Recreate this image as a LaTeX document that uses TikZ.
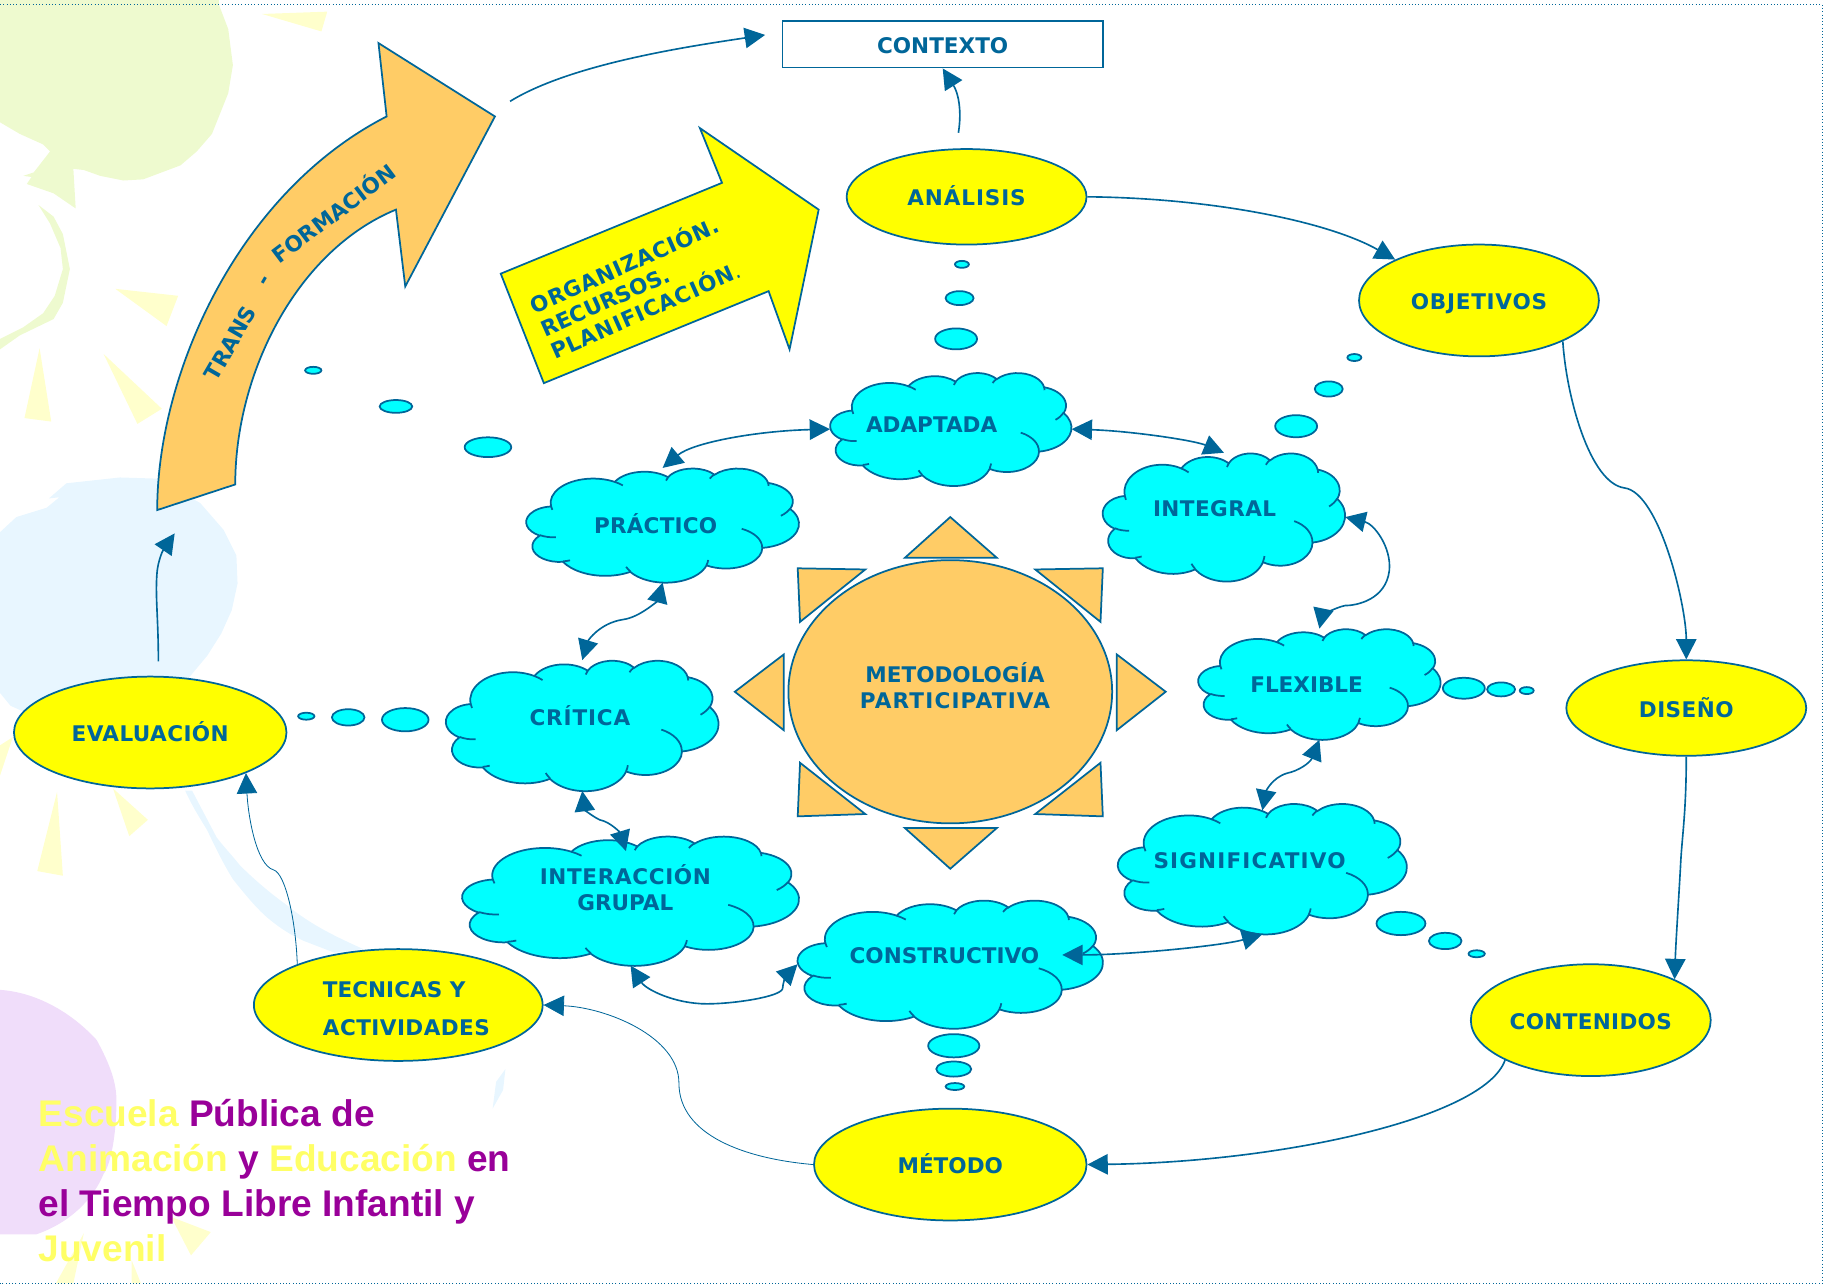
\documentclass[tikz,border=0pt]{standalone}
\usepackage{fontspec}
\usetikzlibrary{arrows.meta,shapes.geometric}
\newfontfamily\labfam{DejaVu Sans}
\newfontfamily\escfam{Liberation Sans}
\definecolor{linec}{HTML}{006699}
\definecolor{cloudc}{HTML}{00FFFF}
\definecolor{orangec}{HTML}{FFCC66}
\definecolor{yellowc}{HTML}{FFFF00}
\definecolor{pgreen}{HTML}{EEFACF}
\definecolor{pblue}{HTML}{E8F6FF}
\definecolor{pyellow}{HTML}{FFFFCC}
\definecolor{ppurple}{HTML}{F0DDFA}
\definecolor{purp}{HTML}{990099}
\definecolor{escy}{HTML}{FFFF66}
\newcommand\spreadtxt[2]{{\addfontfeatures{LetterSpace=#1}#2}}
\tikzset{
 x=1pt,y=-1pt,
 lab/.style={font=\labfam\bfseries\fontsize{18.5}{22.5}\selectfont,text=linec,align=center,inner sep=0pt},
 lab1/.style={font=\labfam\bfseries\fontsize{18.5}{22.5}\selectfont,text=linec,inner sep=0pt,text height=15.5pt,text depth=0pt},
 wide/.style={lab1,font=\labfam\bfseries\fontsize{18.5}{22.5}\selectfont\addfontfeatures{LetterSpace=#1}},
 boss/.style={ellipse,draw=linec,line width=1.5pt,fill=yellowc,inner sep=0pt,minimum width=#1},
 bub/.style={ellipse,draw=linec,line width=1.5pt,fill=cloudc,inner sep=0pt},
 hull/.style={ellipse,inner sep=0pt},
 ray/.style={draw=linec,line width=1.5pt,fill=orangec,line join=miter},
 conn/.style={draw=linec,line width=1.4pt,-{Triangle[length=17.5pt,width=17.5pt]}},
 twin/.style={draw=linec,line width=1.4pt,{Triangle[length=17.5pt,width=17.5pt]}-{Triangle[length=17.5pt,width=17.5pt]}}
}
% one arc of the cloud outline: radii, start angle and sweep as the outline defines them
\newcommand\oarc[4]{%
 \pgfmathsetmacro\oaS{atan2((#1)*sin(#3),(#2)*cos(#3))}%
 \pgfmathsetmacro\oaE{atan2((#1)*sin((#3)+(#4)),(#2)*cos((#3)+(#4)))}%
 \pgfmathparse{\oaE<\oaS ? \oaE+360 : \oaE}\let\oaE\pgfmathresult
 \pgfpatharc{\oaS}{\oaE}{#1pt and #2pt}}
\newcommand\ocut[6]{\pgfpathmoveto{\pgfpoint{#1pt}{#2pt}}\oarc{#3}{#4}{#5}{#6}}
\newcommand\cloudshape[4]{%
 \begin{scope}[shift={(#1,#2)},xscale={(#3-#1)/432},yscale={-(#4-#2)/432}]
 \pgfsetstrokecolor{linec}\pgfsetfillcolor{cloudc}\pgfsetlinewidth{1.5pt}%
 \pgfpathmoveto{\pgfpoint{39pt}{143.7pt}}%
 \oarc{67.53}{91.90}{-190.487}{123.781}%
 \oarc{53.33}{72.67}{-144.102}{89.945}%
 \oarc{43.65}{59.45}{-145.808}{99.723}%
 \oarc{48.57}{65.95}{-130.986}{117.242}%
 \oarc{53.33}{72.73}{-78.709}{109.027}%
 \oarc{67.75}{92.20}{-46.267}{130.269}%
 \oarc{57.85}{78.67}{0.625}{114.033}%
 \oarc{67.52}{92.15}{22.452}{115.173}%
 \oarc{77.20}{105.43}{66.243}{75.711}%
 \oarc{43.60}{59.18}{-274.942}{146.736}%
 \oarc{43.45}{59.45}{-246.829}{152.519}%
 \pgfpathclose
 \pgfusepath{fill,stroke}%
 \ocut{46.93}{261.77}{43.45}{59.45}{86.742}{26.430}%
 \ocut{69.28}{348.99}{43.60}{59.18}{73.610}{11.447}%
 \ocut{164.78}{390.90}{67.52}{92.15}{137.624}{14.081}%
 \ocut{288.27}{347.51}{67.52}{92.15}{6.453}{15.998}%
 \ocut{341.29}{229.54}{57.85}{78.67}{-70.292}{70.917}%
 \ocut{417.98}{153.54}{53.33}{72.73}{30.318}{27.752}%
 \ocut{383.24}{54.26}{48.57}{65.95}{-13.744}{14.859}%
 \ocut{290.78}{39.52}{48.57}{65.95}{-149.181}{18.195}%
 \ocut{221.41}{47.20}{43.65}{59.45}{-163.494}{17.686}%
 \ocut{140.00}{51.92}{67.53}{91.90}{-66.707}{12.319}%
 \ocut{41.27}{157.89}{67.53}{91.90}{-202.500}{12.013}%
 \pgfusepath{stroke}%
 \end{scope}}
\begin{document}
\begin{tikzpicture}
\useasboundingbox (0,0) rectangle (1568,1103);
% pale background
\fill[pgreen] (0,0)--(188,0)--(188,4)--(196,25)--(200,56)--(196,80)--(182,115)--(169,130)--(155,142)--(123,154)--(106,155)--(86,151)--(72,146)--(63,145)--(65,179)--(46,166)--(23,158)--(27,152)--(20,151)--(29,148)--(43,130)--(37,124)--(17,115)--(0,105)--cycle;
\fill[pgreen] (33,176)--(46,186)--(54,201)--(60,231)--(54,260)--(46,274)--(17,288)--(0,300)--(0,291)--(20,281)--(37,269)--(47,254)--(54,231)--(52,213)--(43,192)--cycle;
\fill[pyellow] (225,12)--(281,10)--(276,27)--cycle;
\fill[pyellow] (99,248)--(153,254)--(143,280)--cycle;
\fill[pyellow] (34,299)--(44,362)--(21,359)--cycle;
\fill[pyellow] (89,304)--(139,351)--(118,364)--cycle;
\fill[pyellow] (49,680)--(54,752)--(32,748)--cycle;
\fill[pyellow] (97,677)--(127,704)--(111,718)--cycle;
\fill[pyellow] (11,633)--(0,666)--(0,640)--cycle;
\fill[pyellow] (147,1045)--(181,1058)--(164,1078)--cycle;
\fill[pyellow] (72,1059)--(63,1102)--(48,1102)--cycle;
\fill[pyellow] (113,1082)--(121,1102)--(113,1102)--cycle;
\fill[pblue] (0,457)--(14,444)--(40,436)--(51,427)--(42,428)--(57,415)--(103,410)--(135,411)--(172,432)--(192,455)--(203,477)--(204,501)--(199,524)--(190,544)--(178,563)--(163,581)--(120,640)--(60,640)--(20,611)--(9,606)--(0,595)--cycle;
\fill[pblue] (159,679)..controls (165,692) and (170,700)..(178,713)..controls (185,728) and (192,742)..(200,755)..controls (212,770) and (222,782)..(232,790)..controls (242,798) and (250,803)..(261,808)--(287,818)--(312,815)..controls (290,805) and (268,795)..(246,777)..controls (232,767) and (218,755)..(206,743)..controls (198,733) and (192,727)..(186,719)--(165,679)--cycle;
\fill[pblue] (426,929)--(434,918)--(432,936)--(423,952)--cycle;
\fill[ppurple] (0,850)..controls (30,852) and (60,868)..(83,893)..controls (95,915) and (100,930)..(100,945)..controls (100,975) and (95,1000)..(89,1008)..controls (80,1030) and (60,1050)..(31,1060)--(0,1060)--cycle;
% frame
\draw[linec,line width=0.8pt,dotted] (0,4)--(1565,4)--(1565,1102)--(0,1102);
% arrows with text
\draw[draw=linec,line width=1.5pt,fill=orangec] (135,438)..controls (135,320) and (205,165)..(332,100)--(325,37)--(425,100)--(348,246)--(340,180)..controls (255,215) and (202,320)..(202,416)--cycle;
\draw[draw=linec,line width=1.5pt,fill=yellowc] (430,235)--(620,157)--(601,110)--(703,180)--(678,300)--(660,250)--(467,329)--cycle;
\node[lab1,rotate=60] (trans) at (197,294) {TRANS};
\node[lab1,rotate=60] (guion) at (225,240) {-};
\node[lab1,rotate=37] (forma) at (286,183) {FORMACIÓN};
\node[lab,rotate=24,align=left,font=\labfam\bfseries\fontsize{18.5}{21.5}\selectfont] (orga) at (545,246) {\spreadtxt{3}{ORGANIZACIÓN.}\\RECURSOS.\\\spreadtxt{4}{PLANIFICACIÓN}{\mdseries.}};
% main ellipses
\node[boss=206pt,minimum height=82pt,wide=4] (analisis) at (830,169) {ANÁLISIS};
\node[boss=206pt,minimum height=96pt,wide=3.5] (objetivos) at (1270,258) {OBJETIVOS};
\node[boss=206pt,minimum height=82pt,wide=2] (diseno) at (1448,608) {DISEÑO};
\node[boss=206pt,minimum height=96pt,wide=1.5] (contenidos) at (1366,876) {CONTENIDOS};
\node[boss=234pt,minimum height=96pt,lab1] (metodo) at (816,1000) {MÉTODO};
\node[boss=248pt,minimum height=96pt] (tecnicas) at (342,863) {};
\node[lab,align=left,font=\labfam\bfseries\fontsize{18.5}{33}\selectfont] (tecnicast) at (349,866) {TECNICAS Y\\\spreadtxt{2}{ACTIVIDADES}};
\node[boss=234pt,minimum height=96pt,wide=2] (evaluacion) at (129,629) {EVALUACIÓN};
\node[draw=linec,line width=1.5pt,fill=white,minimum width=275pt,minimum height=40pt,lab1] (contexto) at (809.5,38) {CONTEXTO};
% clouds
\cloudshape{713}{320}{920}{417}
\cloudshape{452}{402}{686}{500}
\cloudshape{947}{389}{1155}{499}
\cloudshape{1029}{540}{1237}{635}
\cloudshape{960}{690}{1208}{802}
\cloudshape{685}{773}{947}{883}
\cloudshape{397}{718}{686}{829}
\cloudshape{383}{567}{617}{679}
\node[hull,minimum width=207pt,minimum height=97pt] (adaptada) at (816.5,368.5) {};
\node[hull,minimum width=234pt,minimum height=98pt] (practico) at (569,451) {};
\node[hull,minimum width=208pt,minimum height=110pt] (integral) at (1051,444) {};
\node[hull,minimum width=208pt,minimum height=95pt] (flexible) at (1133,587.5) {};
\node[hull,minimum width=248pt,minimum height=112pt] (signif) at (1084,746) {};
\node[hull,minimum width=262pt,minimum height=110pt] (construct) at (816,828) {};
\node[hull,minimum width=289pt,minimum height=111pt] (interac) at (541.5,773.5) {};
\node[hull,minimum width=234pt,minimum height=112pt] (critica) at (500,623) {};
\node[lab1] (adaptadat) at (800,364) {ADAPTADA};
\node[wide=1] (practicot) at (563,450) {PRÁCTICO};
\node[wide=2] (integralt) at (1043,436) {INTEGRAL};
\node[lab1] (flexiblet) at (1122,587) {FLEXIBLE};
\node[wide=5.4] (signift) at (1073,738) {SIGNIFICATIVO};
\node[lab1] (constructt) at (811,820) {CONSTRUCTIVO};
\node[lab] (interact) at (537,762) {\spreadtxt{3}{INTERACCIÓN}\\GRUPAL};
\node[wide=4] (criticat) at (498,615) {CRÍTICA};
% central sun
\draw[ray] (816,444)--(856,479)--(777,479)--cycle;
\draw[ray] (816,746)--(856,711)--(777,711)--cycle;
\draw[ray] (631,594)--(673,562)--(673,627)--cycle;
\draw[ray] (1001,594)--(959,562)--(959,627)--cycle;
\draw[ray] (685,488)--(743,489)--(687,534)--cycle;
\draw[ray] (947,488)--(889,489)--(945,534)--cycle;
\draw[ray] (685,701)--(743,699)--(687,655)--cycle;
\draw[ray] (947,701)--(889,699)--(945,655)--cycle;
\node[ellipse,draw=linec,line width=1.5pt,fill=orangec,inner sep=0pt,minimum width=278pt,minimum height=226pt] (sol) at (816,594) {};
\node[lab] (solt) at (820,588.5) {METODOLOGÍA\\\spreadtxt{5.5}{PARTICIPATIVA}};
% bubbles
\node[bub,minimum width=12pt,minimum height=6pt] (b1a) at (826,227) {};
\node[bub,minimum width=24pt,minimum height=12pt] (b1b) at (824,256) {};
\node[bub,minimum width=36pt,minimum height=18pt] (b1c) at (821,291) {};
\node[bub,minimum width=12pt,minimum height=6pt] (b2a) at (1163,307) {};
\node[bub,minimum width=24pt,minimum height=13pt] (b2b) at (1141,334) {};
\node[bub,minimum width=36pt,minimum height=19pt] (b2c) at (1113,366) {};
\node[bub,minimum width=12pt,minimum height=6pt] (b3a) at (1311,593) {};
\node[bub,minimum width=24pt,minimum height=12pt] (b3b) at (1289,592) {};
\node[bub,minimum width=36pt,minimum height=18pt] (b3c) at (1257,591) {};
\node[bub,minimum width=14pt,minimum height=6pt] (b4a) at (1268,819) {};
\node[bub,minimum width=28pt,minimum height=14pt] (b4b) at (1241,808) {};
\node[bub,minimum width=42pt,minimum height=20pt] (b4c) at (1203,793) {};
\node[bub,minimum width=16pt,minimum height=6pt] (b5a) at (820,933) {};
\node[bub,minimum width=30pt,minimum height=13pt] (b5b) at (819,918) {};
\node[bub,minimum width=44pt,minimum height=20pt] (b5c) at (819,898) {};
\node[bub,minimum width=14pt,minimum height=6pt] (b6a) at (263,615) {};
\node[bub,minimum width=28pt,minimum height=14pt] (b6b) at (299,616) {};
\node[bub,minimum width=40pt,minimum height=20pt] (b6c) at (348,618) {};
\node[bub,minimum width=14pt,minimum height=6pt] (b7a) at (269,318) {};
\node[bub,minimum width=28pt,minimum height=11pt] (b7b) at (340,349) {};
\node[bub,minimum width=40pt,minimum height=17pt] (b7c) at (419,384) {};
% connectors
\coordinate (fromtrans) at (438,87);
\coordinate (tocontexto) at (657,30);
\coordinate (fromanalisis) at (823,114);
\coordinate (fromeval) at (136,568);
\coordinate (totrans) at (150,458);
\draw[conn] (fromtrans)..controls (490,55) and (590,40)..(tocontexto);
\draw[conn] (fromanalisis)..controls (826,95) and (823,80)..(contexto.south);
\draw[conn] (analisis.east)..controls (1040,170) and (1140,190)..(objetivos.154);
\draw[conn] (objetivos.-26)..controls (1345,340) and (1365,415)..(1395,419)..controls (1425,423) and (1448,520)..(diseno.north);
\draw[conn] (diseno.south)..controls (1448,700) and (1444,720)..(1443,745)..controls (1441,780) and (1439,810)..(contenidos.26);
\draw[conn] (contenidos.205)..controls (1275,960) and (1100,998)..(metodo.east);
\draw[conn,line width=0.7pt] (metodo.west)..controls (640,995) and (583,975)..(583,930)..controls (583,890) and (520,865)..(tecnicas.east);
\draw[conn,line width=0.7pt] (tecnicas.158)..controls (254,790) and (245,750)..(235,747)..controls (220,743) and (213,700)..(evaluacion.-23);
\draw[conn] (fromeval)..controls (136,530) and (133,510)..(135,490)..controls (136,482) and (139,474)..(totrans);
\draw[twin] (adaptada.west)..controls (650,370) and (595,380)..(practico.north);
\draw[twin] (adaptada.east)..controls (970,370) and (1025,378)..(integral.north);
\draw[twin] (integral.east)..controls (1180,450) and (1195,470)..(1193,490)..controls (1190,515) and (1165,520)..(1155,520)..controls (1145,522) and (1135,530)..(flexible.north);
\draw[twin] (flexible.south)..controls (1125,655) and (1115,662)..(1105,664)..controls (1092,668) and (1087,680)..([yshift=-6pt]signif.north);
\draw[twin] (signif.south)..controls (1050,812) and (970,820)..([xshift=-35pt,yshift=8pt]construct.east);
\draw[twin] (construct.west)..controls (675,838) and (672,845)..(672,849)..controls (670,856) and (630,862)..(607,862)..controls (580,862) and (555,850)..(interac.south);
\draw[twin] ([xshift=-4pt,yshift=-13pt]interac.north)..controls (533,716) and (525,706)..(515,704)..controls (507,700) and (502,695)..(critica.south);
\draw[twin] (critica.north)..controls (505,550) and (515,535)..(535,532)..controls (550,530) and (565,515)..(practico.south);
% title
\node[anchor=north west,inner sep=0pt,align=left,font=\escfam\bfseries\fontsize{31.85}{38.6}\selectfont,text=purp] (escuela) at (33,944) {\textcolor{escy}{Escuela} Pública de\\\textcolor{escy}{Animación} y \textcolor{escy}{Educación} en\\el Tiempo Libre Infantil y\\\textcolor{escy}{Juvenil}};
\end{tikzpicture}
\end{document}
